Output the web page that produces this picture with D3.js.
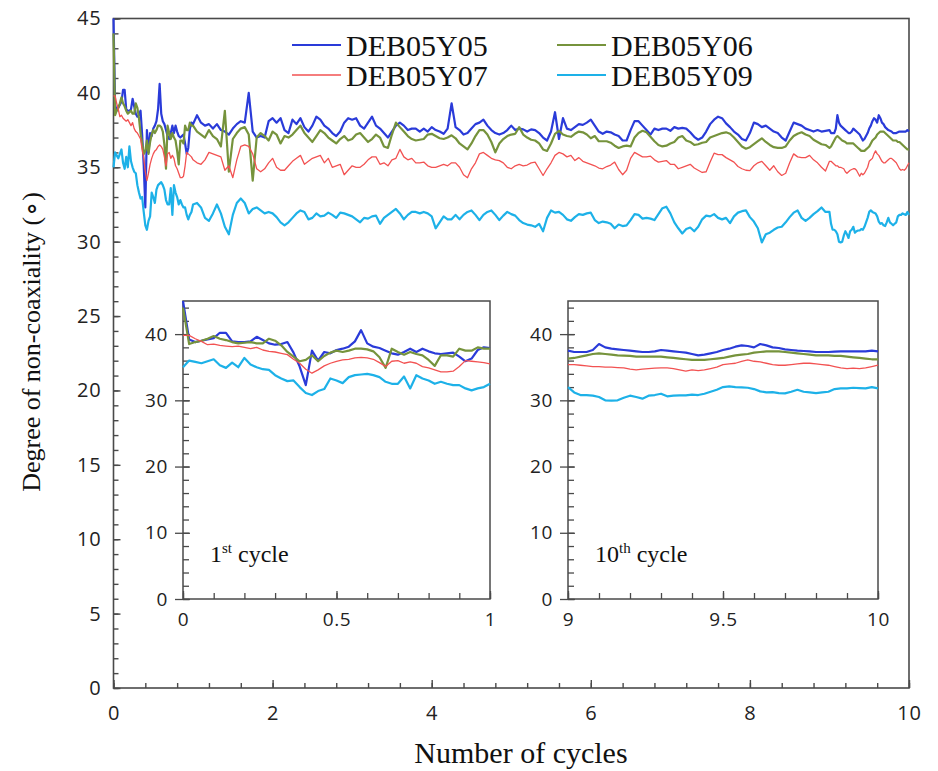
<!DOCTYPE html>
<html><head><meta charset="utf-8">
<script src="https://cdn.jsdelivr.net/npm/d3@7"></script>
<style>
body{margin:0;background:#fff;}
svg{display:block;}
.serif{font-family:"Liberation Serif","Times New Roman",serif;}
</style></head><body>
<svg id="chart" width="938" height="771"></svg>
<script>
// ---------------- DATA ----------------
const seriesNames = ["DEB05Y05", "DEB05Y06", "DEB05Y07", "DEB05Y09"];
const seriesColors = ["#2a3bd9", "#76933c", "#f25252", "#1db1e8"];

// 1st cycle (0 .. 1, every 0.02 cycle)
const firstCycleX = d3.range(51).map(i => i * 0.02);
const firstY05 = [45.0,39.2,38.8,39.0,39.2,39.4,40.2,40.2,38.9,38.8,
  38.8,38.9,39.6,39.1,38.6,38.4,38.5,38.8,37.2,35.1,
  32.3,37.5,36.0,37.3,37.1,37.6,37.8,38.1,38.9,40.6,
  38.6,38.1,37.9,37.5,37.1,36.9,37.3,37.8,37.3,37.8,
  37.4,37.1,37.0,37.1,37.2,36.6,35.9,36.3,37.6,38.0,37.9];
const firstY06 = [44.0,38.5,38.8,39.0,39.3,39.7,39.3,39.1,38.8,38.6,
  38.7,38.8,38.6,38.6,39.3,39.0,38.3,37.3,36.6,35.9,
  36.1,36.8,35.9,36.7,37.2,37.5,37.3,37.5,37.8,37.8,
  37.7,37.4,36.5,34.9,37.8,37.3,36.9,37.3,37.0,36.8,
  36.1,35.2,36.8,36.8,36.6,37.8,37.5,37.5,38.0,37.8,37.8];
const firstY07 = [39.8,39.8,39.3,38.9,38.4,38.5,38.3,38.2,38.1,38.2,
  38.0,37.8,38.0,37.6,37.4,37.3,37.1,36.9,36.2,35.6,
  34.7,34.1,34.6,35.2,35.6,35.9,36.1,36.2,36.4,36.5,
  36.4,36.2,35.7,35.1,35.9,36.0,35.6,35.8,35.6,35.1,
  34.9,34.6,34.3,34.3,34.4,35.1,36.0,35.9,35.8,35.7,35.5];
const firstY09 = [35.0,36.0,35.8,35.6,35.9,36.2,35.3,34.9,35.7,35.0,
  36.4,35.4,35.0,34.7,34.6,33.8,33.3,32.9,33.0,32.0,
  31.1,30.8,31.4,31.7,33.3,33.0,32.6,33.5,33.8,33.9,
  34.0,33.8,33.5,32.8,32.5,32.5,33.6,31.8,33.8,33.3,
  33.0,32.5,32.8,32.5,32.3,32.3,31.8,31.5,31.8,32.0,32.5];

// cycles 1.05 .. 8.95, every 0.05 cycle
const midX = d3.range(159).map(i => 1.05 + i * 0.05);
const midY05 = [38.5,38.0,37.8,37.9,37.6,37.9,37.5,37.4,37.2,37.6,
  37.9,38.1,38.0,40.0,37.4,37.0,37.1,37.0,38.1,38.3,
  38.0,38.3,37.5,37.3,38.2,37.9,38.3,37.7,37.4,37.8,
  38.4,38.2,37.8,37.6,37.3,37.1,37.4,38.0,38.3,38.2,
  38.3,37.8,37.6,38.0,38.4,37.8,37.6,37.3,37.0,37.4,
  37.8,38.0,37.8,37.5,37.6,37.6,37.4,37.6,37.4,37.7,
  37.5,37.4,37.25,37.6,39.3,37.7,37.5,37.2,37.3,37.6,
  37.9,38.0,38.2,37.8,37.5,37.3,37.2,37.3,37.5,37.8,
  37.5,37.6,37.55,37.4,37.55,37.5,37.3,37.0,36.8,37.4,
  38.7,36.9,38.3,37.6,37.5,37.7,37.9,37.85,38.0,38.2,
  37.8,37.4,37.25,37.4,37.35,37.2,37.1,36.8,36.8,37.5,
  38.1,38.1,37.8,37.5,37.2,37.6,37.5,37.6,37.6,37.45,
  37.7,37.6,37.65,37.6,37.35,37.05,36.85,37.0,37.4,37.9,
  38.2,38.4,38.3,37.95,37.7,37.4,37.2,36.9,36.8,37.3,
  38.0,37.9,37.7,37.8,37.6,37.4,37.3,37.0,36.8,37.4,
  38.0,37.9,37.8,37.6,37.5,37.4,37.5,37.4,37.45];
const midY06 = [37.4,37.2,37.0,37.5,37.1,36.9,36.4,38.8,34.7,36.9,
  37.3,37.6,37.7,37.2,34.1,37.0,37.3,37.1,36.8,37.4,
  37.2,36.6,37.1,37.0,37.2,37.5,37.8,37.3,37.0,36.7,
  37.1,37.5,37.3,37.0,36.8,36.6,36.9,37.1,36.8,36.9,
  37.2,37.3,37.0,36.7,36.9,37.2,37.0,36.4,36.3,37.2,
  38.0,37.7,37.4,37.1,36.9,36.8,36.85,36.9,37.2,37.25,
  37.1,36.95,36.9,37.0,37.15,36.95,36.6,36.4,36.2,36.6,
  37.1,37.5,37.5,37.2,36.7,36.0,36.6,36.9,37.1,37.2,
  37.25,37.7,37.2,37.0,36.85,36.8,36.6,36.2,36.1,36.6,
  37.25,37.45,37.2,37.1,37.05,37.25,37.4,37.35,37.2,36.95,
  37.1,36.75,36.75,36.75,36.65,36.45,36.3,36.4,36.45,36.4,
  37.0,37.3,37.45,37.35,37.05,36.75,36.5,36.4,36.45,36.6,
  36.7,37.0,37.1,36.8,36.7,36.5,36.55,36.65,36.7,37.0,
  37.1,37.2,37.3,37.35,37.25,37.0,36.7,36.4,36.25,36.35,
  36.55,36.75,36.95,36.7,36.5,36.35,36.3,36.3,36.4,36.8,
  37.1,37.25,37.35,37.2,37.1,36.85,36.7,36.55,36.5];
const midY07 = [35.3,35.2,35.5,36.0,35.9,35.8,35.7,34.8,35.1,34.3,
  35.5,36.4,36.5,36.4,35.9,34.9,34.7,34.9,35.3,35.6,
  35.0,34.8,34.8,35.1,35.4,35.6,35.8,35.2,35.4,35.6,
  35.7,35.8,35.3,35.6,35.0,35.1,35.2,34.5,34.8,35.1,
  35.0,35.0,35.2,35.5,35.7,35.7,35.2,35.3,35.1,35.5,
  35.6,36.2,35.7,35.5,35.6,35.3,35.3,35.35,35.1,35.0,
  35.0,35.1,35.2,35.1,35.3,35.3,35.0,34.5,34.3,34.9,
  35.3,35.9,36.0,35.8,35.6,35.5,35.45,35.3,35.0,34.9,
  35.1,35.2,35.1,35.15,35.3,35.35,34.9,34.45,34.9,35.3,
  35.8,36.0,35.9,35.7,35.8,35.45,35.65,35.4,35.3,35.2,
  35.1,34.95,34.9,35.05,35.15,35.35,34.85,34.5,34.8,35.6,
  36.0,35.85,35.7,35.7,35.75,35.5,35.35,35.4,35.45,35.2,
  35.2,34.9,35.0,35.1,35.2,34.95,34.8,34.65,34.7,35.35,
  35.95,35.85,35.85,35.65,35.5,35.35,35.05,34.9,34.8,34.78,
  35.1,35.3,35.4,35.1,34.8,35.1,34.7,34.45,34.6,35.3,
  35.9,35.7,35.65,35.65,35.8,35.5,35.3,35.0,34.75];
const midY09 = [32.6,32.3,31.6,31.4,31.9,32.5,31.9,31.0,30.5,31.8,
  32.6,32.9,32.6,31.9,32.2,32.3,32.1,31.9,32.0,31.9,
  31.65,31.3,31.1,31.3,31.6,31.9,32.1,32.0,31.5,31.6,
  31.9,31.7,31.75,31.95,31.8,31.6,31.95,31.9,31.8,31.7,
  31.5,31.3,31.6,31.55,31.7,31.75,31.2,31.6,31.8,32.0,
  32.2,31.9,31.5,31.8,32.0,32.0,31.9,32.0,31.9,31.7,
  30.9,31.3,31.7,31.5,31.5,31.8,31.5,31.8,32.0,32.1,
  31.8,31.45,31.8,32.0,32.1,31.8,31.45,31.75,32.0,31.85,
  31.75,31.45,31.25,31.15,31.1,31.0,31.2,30.7,31.6,32.1,
  31.95,32.0,31.8,31.5,31.4,31.65,31.85,31.8,31.9,31.95,
  31.45,31.25,31.35,31.3,31.2,30.9,31.15,31.05,31.1,31.45,
  31.85,31.8,31.55,31.6,31.55,31.45,31.85,32.25,32.35,31.9,
  31.3,30.9,30.55,30.85,30.95,30.7,31.0,31.5,31.75,31.7,
  31.85,31.6,31.5,31.6,31.25,31.7,31.95,32.05,32.1,31.65,
  31.35,30.9,29.95,30.5,30.6,30.8,30.95,31.0,31.3,31.65,
  31.95,32.1,31.6,31.4,31.6,31.85,32.05,32.3,32.0];

// 10th cycle (9 .. 10, every 0.02 cycle)
const tenthCycleX = d3.range(51).map(i => 9 + i * 0.02);
const tenthY05 = [37.5,37.3,37.3,37.3,37.6,38.5,38.0,37.8,37.7,37.6,
  37.5,37.4,37.3,37.3,37.4,37.6,37.5,37.4,37.3,37.2,
  37.0,36.8,36.9,37.1,37.3,37.6,37.8,38.1,38.3,38.2,
  38.0,38.5,38.3,38.0,37.9,37.7,37.6,37.5,37.45,37.4,
  37.3,37.3,37.3,37.35,37.4,37.4,37.4,37.4,37.4,37.5,37.4];
const tenthY06 = [36.3,36.4,36.6,36.8,37.0,37.1,37.0,36.9,36.8,36.75,
  36.7,36.6,36.6,36.6,36.6,36.6,36.5,36.4,36.3,36.2,
  36.1,36.1,36.1,36.2,36.3,36.4,36.6,36.8,36.9,37.0,
  37.2,37.3,37.4,37.4,37.4,37.3,37.2,37.1,37.0,36.9,
  36.8,36.8,36.8,36.7,36.7,36.6,36.5,36.4,36.3,36.2,36.2];
const tenthY07 = [35.4,35.4,35.3,35.2,35.1,35.1,35.0,35.0,34.95,34.9,
  34.7,34.6,34.7,34.8,34.85,34.9,34.9,34.8,34.6,34.4,
  34.6,34.5,34.6,34.8,35.0,35.4,35.5,35.6,35.9,36.1,
  35.9,35.8,35.6,35.4,35.3,35.3,35.4,35.5,35.6,35.6,
  35.5,35.4,35.3,35.1,34.9,34.8,34.85,34.8,34.9,35.1,35.3];
const tenthY09 = [32.0,31.2,30.8,30.8,30.7,30.5,30.0,29.95,30.0,30.4,
  30.7,30.5,30.25,30.7,30.8,31.0,30.6,30.7,30.75,30.75,
  30.85,30.8,31.0,31.3,31.6,32.0,32.1,32.0,31.95,31.9,
  31.7,31.35,31.2,31.25,31.1,31.05,31.3,31.6,31.3,31.2,
  31.1,31.2,31.3,31.7,31.8,31.8,31.9,31.85,31.8,32.0,31.8];

const mainTicksX = [0, 2, 4, 6, 8, 10];
const mainTicksY = [0, 5, 10, 15, 20, 25, 30, 35, 40, 45];
const insetTicksY = [0, 10, 20, 30, 40];
const inset1TicksX = [0, 0.5, 1];
const inset2TicksX = [9, 9.5, 10];
const xTitle = "Number of cycles";
const yTitle = "Degree of non-coaxiality (\u2218)";

// ---------------- BUILD ----------------
const firstSets = [firstY05, firstY06, firstY07, firstY09];
const midSets = [midY05, midY06, midY07, midY09];
const tenthSets = [tenthY05, tenthY06, tenthY07, tenthY09];
const toPts = (xs, ys) => xs.map((x, i) => [x, ys[i]]);
const mainSeries = seriesNames.map((n, k) =>
  toPts(firstCycleX, firstSets[k]).concat(toPts(midX, midSets[k]), toPts(tenthCycleX, tenthSets[k])));

const svg = d3.select("#chart");
const sansFont = "'Open Sans', 'Noto Sans', sans-serif";
const axisCol = "#4a4a4a";
const widths = [2.2, 2.2, 1.3, 2.2];

// main panel
const M = {l: 113.5, r: 909, t: 18.5, b: 688};
const x = d3.scaleLinear().domain([0, 10]).range([M.l, M.r]);
const y = d3.scaleLinear().domain([0, 45]).range([M.b, M.t]);

const gMain = svg.append("g");
gMain.append("rect").attr("x", M.l).attr("y", M.t).attr("width", M.r - M.l).attr("height", M.b - M.t)
  .attr("fill", "none").attr("stroke", axisCol).attr("stroke-width", 1.6);

gMain.append("g").attr("transform", `translate(${M.l},0)`)
  .call(d3.axisLeft(y).tickValues(d3.range(0, 46, 1)).tickSize(-5).tickFormat(""))
  .call(g => g.select(".domain").remove());
gMain.append("g").attr("transform", `translate(0,${M.b})`)
  .call(d3.axisBottom(x).tickValues(d3.range(0, 10.01, 0.4)).tickSize(-5).tickFormat(""))
  .call(g => g.select(".domain").remove());
gMain.append("g").attr("class", "ylab").attr("transform", `translate(${M.l},0)`)
  .call(d3.axisLeft(y).tickValues(mainTicksY).tickSize(-7).tickPadding(12).tickFormat(d3.format("d")))
  .call(g => g.select(".domain").remove());
gMain.append("g").attr("class", "xlab").attr("transform", `translate(0,${M.b})`)
  .call(d3.axisBottom(x).tickValues(mainTicksX).tickSize(-8).tickPadding(18).tickFormat(d3.format("d")))
  .call(g => g.select(".domain").remove());

gMain.selectAll(".tick line").attr("stroke", axisCol).attr("stroke-width", 1.4);
gMain.selectAll(".tick text").attr("font-family", sansFont).attr("font-size", 20)
  .attr("letter-spacing", 0.8).attr("fill", "#222");

const line = d3.line().x(d => x(d[0])).y(d => y(d[1]));
mainSeries.forEach((pts, k) => {
  gMain.append("path").attr("d", line(pts)).attr("fill", "none")
    .attr("stroke", seriesColors[k]).attr("stroke-width", widths[k]).attr("stroke-linejoin", "round");
});

// titles
svg.append("text").attr("class", "serif").attr("x", 521).attr("y", 763).attr("text-anchor", "middle")
  .attr("font-size", 30).attr("fill", "#111").text(xTitle);
svg.append("text").attr("class", "serif").attr("transform", "translate(40,342) rotate(-90)").attr("text-anchor", "middle")
  .attr("font-size", 26).attr("fill", "#111").text(yTitle);

// legend
const legPos = [[292, 45], [557, 45], [292, 75], [557, 75]];
seriesNames.forEach((n, k) => {
  const [lx, ly] = legPos[k];
  svg.append("line").attr("x1", lx).attr("x2", lx + 49).attr("y1", ly).attr("y2", ly)
    .attr("stroke", seriesColors[k]).attr("stroke-width", k === 2 ? 1.6 : 2.2);
  svg.append("text").attr("class", "serif").attr("x", lx + 54).attr("y", ly + 11)
    .attr("font-size", 30).attr("fill", "#111").text(n);
});

// insets
function inset(x0, x1, dom, ticksX, minorStep, setsX, sets, label, sup) {
  const ix = d3.scaleLinear().domain(dom).range([x0, x1]);
  const iy = d3.scaleLinear().domain([0, 45]).range([599, 301]);
  const g = svg.append("g");
  g.append("rect").attr("x", x0).attr("y", 301).attr("width", x1 - x0).attr("height", 298)
    .attr("fill", "#fff").attr("stroke", axisCol).attr("stroke-width", 1.5);
  g.append("g").attr("transform", `translate(${x0},0)`)
    .call(d3.axisLeft(iy).tickValues(d3.range(0, 46, 2)).tickSize(-6).tickFormat(""))
    .call(s => s.select(".domain").remove());
  g.append("g").attr("transform", `translate(${x0},0)`)
    .call(d3.axisLeft(iy).tickValues(insetTicksY).tickSize(8).tickPadding(7).tickFormat(d3.format("d")))
    .call(s => s.select(".domain").remove());
  g.append("g").attr("transform", `translate(${x0},0)`)
    .call(d3.axisLeft(iy).tickValues(insetTicksY).tickSize(-7).tickFormat(""))
    .call(s => s.select(".domain").remove());
  g.append("g").attr("transform", "translate(0,599)")
    .call(d3.axisBottom(ix).tickValues(d3.range(dom[0], dom[1] + 0.001, minorStep)).tickSize(-6).tickFormat(""))
    .call(s => s.select(".domain").remove());
  g.append("g").attr("transform", "translate(0,599)")
    .call(d3.axisBottom(ix).tickValues(ticksX).tickSize(-8).tickPadding(14).tickFormat(d => d))
    .call(s => s.select(".domain").remove());
  g.selectAll(".tick line").attr("stroke", axisCol).attr("stroke-width", 1.3);
  g.selectAll(".tick text").attr("font-family", sansFont).attr("font-size", 19)
    .attr("letter-spacing", 0.6).attr("fill", "#222");
  const l = d3.line().x(d => ix(d[0])).y(d => iy(d[1]));
  sets.forEach((ys, k) => {
    g.append("path").attr("d", l(toPts(setsX, ys))).attr("fill", "none")
      .attr("stroke", seriesColors[k]).attr("stroke-width", widths[k]).attr("stroke-linejoin", "round");
  });
  const t = g.append("text").attr("class", "serif").attr("x", x0 + 27).attr("y", 562)
    .attr("font-size", 24).attr("fill", "#111");
  t.append("tspan").text(label);
  t.append("tspan").attr("font-size", 15).attr("dy", -9).text(sup);
  t.append("tspan").attr("dy", 9).text(" cycle");
}
inset(183, 490, [0, 1], inset1TicksX, 0.1, firstCycleX, firstSets, "1", "st");
inset(568, 878, [9, 10], inset2TicksX, 0.1, tenthCycleX, tenthSets, "10", "th");
</script>
</body></html>
